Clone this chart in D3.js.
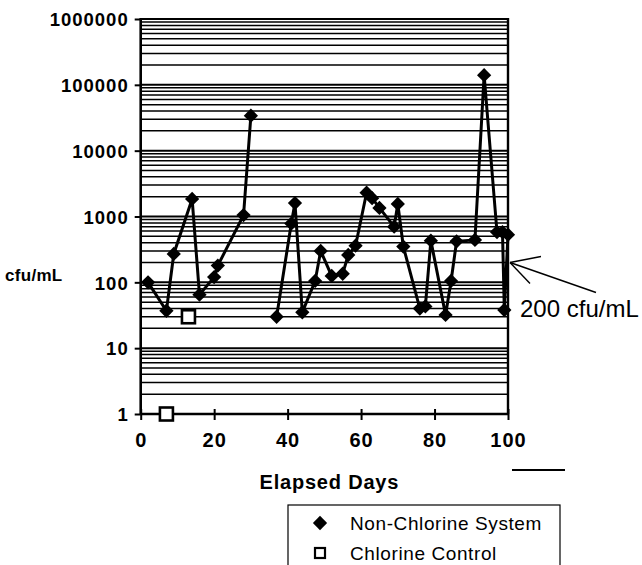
<!DOCTYPE html>
<html lang="en">
<head>
  <meta charset="UTF-8" />
  <title>cfu/mL over Elapsed Days</title>
  <script src="https://d3js.org/d3.v7.min.js"></script>
  <style>
    body {
      margin: 0;
      background-color: #fff;
    }
    svg {
      display: block;
      font-family: 'Liberation Sans', Arial, sans-serif;
    }
    .tick-label {
      font-weight: bold;
      letter-spacing: 1px;
    }
  </style>
</head>
<body>
  <svg width="642" height="565"></svg>
  <script>
    // null marks the break in the measured series (no line drawn across it)
    const nonChlorineDays = [2, 7, 9, 14, 16, 20, 21, 28, 30, null,
      37, 41, 42, 44, 47.5, 49, 52, 55, 56.5, 58.5, 61.5, 63, 65, 69, 70, 71.5,
      76, 77.5, 79, 83, 84.5, 86, 91, 93.5, 97, 98.5, 99, 100];
    const nonChlorineCfu = [100, 37, 270, 1850, 65, 120, 180, 1050, 34000, null,
      30, 780, 1600, 35, 105, 300, 125, 135, 260, 360, 2300, 1900, 1350, 700, 1550, 350,
      40, 43, 430, 32, 105, 420, 440, 140000, 580, 580, 38, 530];

    const chlorineDays = [7, 13];
    const chlorineCfu = [1, 30];

    const yTicks = [1, 10, 100, 1000, 10000, 100000, 1000000];
    const xTicks = [0, 20, 40, 60, 80, 100];
    const annotationCfu = 200;

    const plotLeft = 140.7, plotRight = 508, plotTop = 19, plotBottom = 414;
    const svg = d3.select("svg");

    const x = d3.scaleLinear().domain([0, 100]).range([plotLeft, plotRight]);
    const y = d3.scaleLog().domain([1, 1000000]).range([plotBottom, plotTop]);

    // horizontal grid at every 1..9 x 10^k
    const gridValues = [];
    for (let k = 0; k < 6; k++) {
      for (let m = 1; m <= 9; m++) gridValues.push(m * Math.pow(10, k));
    }
    gridValues.push(1000000);
    svg.append("g")
      .selectAll("line")
      .data(gridValues.filter(v => v > 1))
      .enter()
      .append("line")
      .attr("x1", plotLeft).attr("x2", plotRight)
      .attr("y1", d => y(d)).attr("y2", d => y(d))
      .attr("stroke", "#000")
      .attr("stroke-width", d => yTicks.includes(d) ? 2 : 1.5);

    // frame: right border
    svg.append("line")
      .attr("x1", plotRight).attr("x2", plotRight)
      .attr("y1", plotTop - 1).attr("y2", plotBottom)
      .attr("stroke", "#000").attr("stroke-width", 2.4);

    // y axis
    const yAxis = svg.append("g")
      .attr("transform", `translate(${plotLeft},0)`)
      .call(d3.axisLeft(y).tickValues(yTicks).tickFormat(d3.format("d")).tickSize(6).tickPadding(6));
    yAxis.attr("font-family", null).attr("font-size", null);
    yAxis.select(".domain").attr("stroke-width", 2.6).attr("d", `M0,${plotTop - 1}V${plotBottom}`);
    yAxis.selectAll(".tick line").attr("stroke-width", 2);
    yAxis.selectAll(".tick text")
      .attr("class", "tick-label")
      .attr("font-size", 18.5)
      .attr("fill", "#000")
      .attr("dy", "0.36em");

    // x axis
    const xAxis = svg.append("g")
      .attr("transform", `translate(0,${plotBottom})`)
      .call(d3.axisBottom(x).tickValues(xTicks).tickSize(6).tickPadding(18));
    xAxis.attr("font-family", null).attr("font-size", null);
    xAxis.select(".domain").attr("stroke-width", 2.6).attr("d", `M${plotLeft},0H${plotRight}`);
    xAxis.selectAll(".tick line").attr("y1", -5).attr("y2", 6).attr("stroke-width", 2);
    xAxis.selectAll(".tick text")
      .attr("class", "tick-label")
      .attr("font-size", 20)
      .attr("fill", "#000")
      .attr("dy", "0.45em");

    // non-chlorine series
    const nonChlorine = nonChlorineDays.map((d, i) => ({ day: d, cfu: nonChlorineCfu[i] }));
    const line = d3.line()
      .defined(d => d.cfu != null)
      .x(d => x(d.day))
      .y(d => y(d.cfu));

    svg.append("path")
      .attr("d", line(nonChlorine))
      .attr("fill", "none")
      .attr("stroke", "#000")
      .attr("stroke-width", 3);

    const diamond = d3.symbol().type(d3.symbolDiamond2).size(130);
    svg.append("g")
      .selectAll("path")
      .data(nonChlorine.filter(d => d.cfu != null))
      .enter()
      .append("path")
      .attr("transform", d => `translate(${x(d.day)},${y(d.cfu)})`)
      .attr("d", diamond)
      .attr("fill", "#000");

    // chlorine control
    svg.append("g")
      .selectAll("rect")
      .data(chlorineDays.map((d, i) => ({ day: d, cfu: chlorineCfu[i] })))
      .enter()
      .append("rect")
      .attr("x", d => x(d.day) - 6.5)
      .attr("y", d => y(d.cfu) - 6.5)
      .attr("width", 13).attr("height", 13)
      .attr("fill", "#fff")
      .attr("stroke", "#000")
      .attr("stroke-width", 2.6);

    // axis titles
    svg.append("text")
      .attr("x", 5).attr("y", 281)
      .attr("font-size", 17).attr("font-weight", "bold")
      .attr("letter-spacing", 0.3)
      .text("cfu/mL");

    svg.append("text")
      .attr("x", (plotLeft + plotRight) / 2 + 5).attr("y", 489)
      .attr("text-anchor", "middle")
      .attr("font-size", 20).attr("font-weight", "bold")
      .attr("letter-spacing", 0.8)
      .text("Elapsed Days");

    // stray rule under the axis end
    svg.append("line")
      .attr("x1", x(100) + 4).attr("x2", x(100) + 57)
      .attr("y1", 470).attr("y2", 470)
      .attr("stroke", "#000").attr("stroke-width", 2);

    // 200 cfu/mL annotation
    const ax = x(100) + 2, ay = y(annotationCfu);
    [[ax + 31, ay - 6], [ax + 20, ay + 21], [ax + 86, ay + 30]].forEach(p => {
      svg.append("line")
        .attr("x1", ax).attr("y1", ay)
        .attr("x2", p[0]).attr("y2", p[1])
        .attr("stroke", "#000").attr("stroke-width", 1.4);
    });
    svg.append("text")
      .attr("x", 520).attr("y", 317)
      .attr("font-size", 24)
      .text("200 cfu/mL");

    // legend
    const legend = svg.append("g");
    legend.append("rect")
      .attr("x", 288).attr("y", 505)
      .attr("width", 272).attr("height", 80)
      .attr("fill", "none")
      .attr("stroke", "#000").attr("stroke-width", 1.2);
    legend.append("path")
      .attr("transform", "translate(320,523)")
      .attr("d", diamond)
      .attr("fill", "#000");
    legend.append("rect")
      .attr("x", 315).attr("y", 548)
      .attr("width", 10).attr("height", 10)
      .attr("fill", "#fff")
      .attr("stroke", "#000").attr("stroke-width", 2.2);
    legend.append("text")
      .attr("x", 350).attr("y", 530)
      .attr("font-size", 19).attr("letter-spacing", 0.6)
      .text("Non-Chlorine System");
    legend.append("text")
      .attr("x", 350).attr("y", 560)
      .attr("font-size", 19).attr("letter-spacing", 0.6)
      .text("Chlorine Control");
  </script>
</body>
</html>
